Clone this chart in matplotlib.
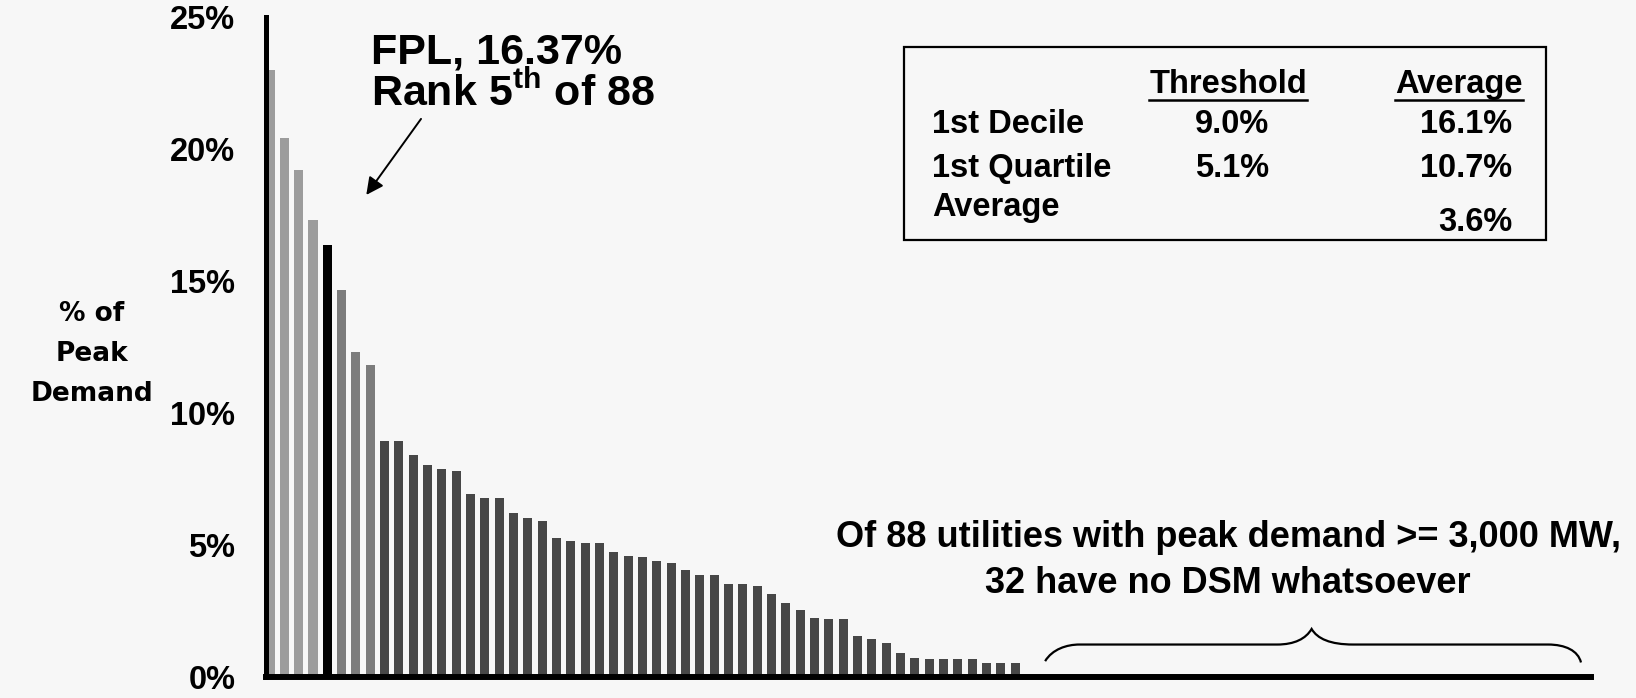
import matplotlib.pyplot as plt
from matplotlib.path import Path
from matplotlib.patches import PathPatch, Rectangle

plt.rcParams['font.family'] = ['Liberation Sans', 'DejaVu Sans']
plt.rcParams['font.weight'] = 'bold'
plt.rcParams['mathtext.fontset'] = 'custom'
plt.rcParams['mathtext.rm'] = 'Liberation Sans:bold'
plt.rcParams['mathtext.bf'] = 'Liberation Sans:bold'

# DSM 占峰值负荷的比例，88 家公用事业按大小排序
dsm_pct = [23.0, 20.4, 19.2, 17.3, 16.37, 14.65, 12.3, 11.8, 8.94, 8.94,
           8.4, 8.02, 7.87, 7.8, 6.92, 6.77, 6.77, 6.23, 6.03, 5.9,
           5.25, 5.16, 5.07, 5.07, 4.72, 4.6, 4.53, 4.39, 4.31, 4.04,
           3.88, 3.87, 3.54, 3.54, 3.46, 3.14, 2.79, 2.53, 2.24, 2.18,
           2.18, 1.55, 1.45, 1.30, 0.91, 0.73, 0.68, 0.68, 0.68, 0.68,
           0.53, 0.53, 0.53,
           0, 0, 0, 0, 0, 0, 0, 0, 0, 0,
           0, 0, 0, 0, 0, 0, 0, 0, 0, 0,
           0, 0, 0, 0, 0, 0, 0, 0, 0, 0,
           0, 0, 0, 0, 0]
fpl_rank = 5
no_dsm_count = 32
y_ticks = [0, 5, 10, 15, 20, 25]

table_rows = ['1st Decile', '1st Quartile', 'Average']
table_threshold = ['9.0%', '5.1%', '']
table_average = ['16.1%', '10.7%', '3.6%']

W, H = 1636, 698
bg = '#f7f7f7'


def fx(px):
    return px / W


def fy(py):
    return 1 - py / H


fig = plt.figure(figsize=(W / 100, H / 100), dpi=100, facecolor=bg)
ax = fig.add_axes([fx(266), fy(677), fx(1591) - fx(266), fy(17) - fy(677)])
ax.set_facecolor(bg)

# 柱子颜色：前几名偏浅，FPL 用纯黑
colors = []
for i in range(len(dsm_pct)):
    if i + 1 == fpl_rank:
        colors.append('black')
    elif i < 4:
        colors.append('#9c9c9c')
    elif i < 8:
        colors.append('#7c7c7c')
    else:
        colors.append('#474747')

x = list(range(len(dsm_pct)))
ax.bar(x, dsm_pct, width=0.63, color=colors, zorder=2)

ax.set_xlim(-0.28, 92.2)
ax.set_ylim(0, 25)
ax.set_xticks([])
ax.set_yticks(y_ticks)
ax.set_yticklabels(['%d%%' % t for t in y_ticks])
ax.tick_params(axis='y', length=0, pad=22, labelsize=23.5)
for lab in ax.get_yticklabels():
    lab.set_fontweight('bold')

for side in ['top', 'right']:
    ax.spines[side].set_visible(False)
ax.spines['left'].set_linewidth(3.6)
ax.spines['bottom'].set_linewidth(4.3)
ax.spines['left'].set_zorder(3)
ax.spines['bottom'].set_zorder(3)

# 纵轴标题
fig.text(fx(92), fy(354), '% of\nPeak\nDemand', ha='center', va='center',
         family='DejaVu Sans', fontsize=19, fontweight='bold', linespacing=1.72)

# FPL 标注
fig.text(fx(371), fy(63), 'FPL, %.2f%%' % dsm_pct[fpl_rank - 1], ha='left',
         va='baseline', fontsize=31, fontweight='bold')
fig.text(fx(371), fy(106), r'Rank %d$^{\mathbf{th}}$ of %d' % (fpl_rank, len(dsm_pct)),
         ha='left', va='baseline', fontsize=31, fontweight='bold')
ax.annotate('', xy=(6.72, 18.26), xytext=(10.54, 21.14),
            arrowprops=dict(arrowstyle='-|>', color='black', lw=1.4,
                            mutation_scale=26, shrinkA=0, shrinkB=0))

# 右下说明文字
fig.text(fx(1228), fy(547), 'Of %d utilities with peak demand >= 3,000 MW,' % len(dsm_pct),
         ha='center', va='baseline', fontsize=26, fontweight='bold')
fig.text(fx(1228), fy(593), '%d have no DSM whatsoever' % no_dsm_count,
         ha='center', va='baseline', fontsize=26, fontweight='bold')

# 大括号
verts = [(54.1, 0.6), (54.6, 1.05), (55.6, 1.23), (56.5, 1.23),
         (70.3, 1.23),
         (71.5, 1.23), (72.3, 1.45), (72.7, 1.82),
         (73.1, 1.45), (74.0, 1.23), (75.6, 1.23),
         (89.2, 1.23),
         (90.4, 1.23), (91.3, 1.0), (91.5, 0.55)]
codes = [Path.MOVETO, Path.CURVE4, Path.CURVE4, Path.CURVE4,
         Path.LINETO,
         Path.CURVE4, Path.CURVE4, Path.CURVE4,
         Path.CURVE4, Path.CURVE4, Path.CURVE4,
         Path.LINETO,
         Path.CURVE4, Path.CURVE4, Path.CURVE4]
ax.add_patch(PathPatch(Path(verts, codes), fill=False, lw=1.6, color='black',
                       clip_on=False))

# 右上角统计表
fig.patches.append(Rectangle((fx(904), fy(240)), fx(1546) - fx(904), fy(47) - fy(240),
                             transform=fig.transFigure, fill=False, lw=1.6,
                             edgecolor='black'))
tsize = 23.5
thr_x, avg_x = 1228, 1459
t1 = fig.text(fx(thr_x), fy(93), 'Threshold', ha='center', va='baseline', fontsize=tsize)
t2 = fig.text(fx(avg_x), fy(93), 'Average', ha='center', va='baseline', fontsize=tsize)

# 表头下划线按文字宽度画
fig.canvas.draw()
for t in [t1, t2]:
    bb = t.get_window_extent()
    fig.add_artist(plt.Line2D([bb.x0 / W, bb.x1 / W], [fy(100), fy(100)],
                              color='black', lw=1.8, transform=fig.transFigure))

row_y = [133, 177, 216]
for name, thr, avg, yy in zip(table_rows, table_threshold, table_average, row_y):
    fig.text(fx(932), fy(yy), name, ha='left', va='baseline', fontsize=tsize)
    if thr:
        fig.text(fx(thr_x + 4), fy(yy), thr, ha='center', va='baseline', fontsize=tsize)
    shift = 15 if name == 'Average' else 0
    fig.text(fx(1512), fy(yy + shift), avg, ha='right', va='baseline', fontsize=tsize)

fig.savefig('out.png', dpi=100, facecolor=bg)
